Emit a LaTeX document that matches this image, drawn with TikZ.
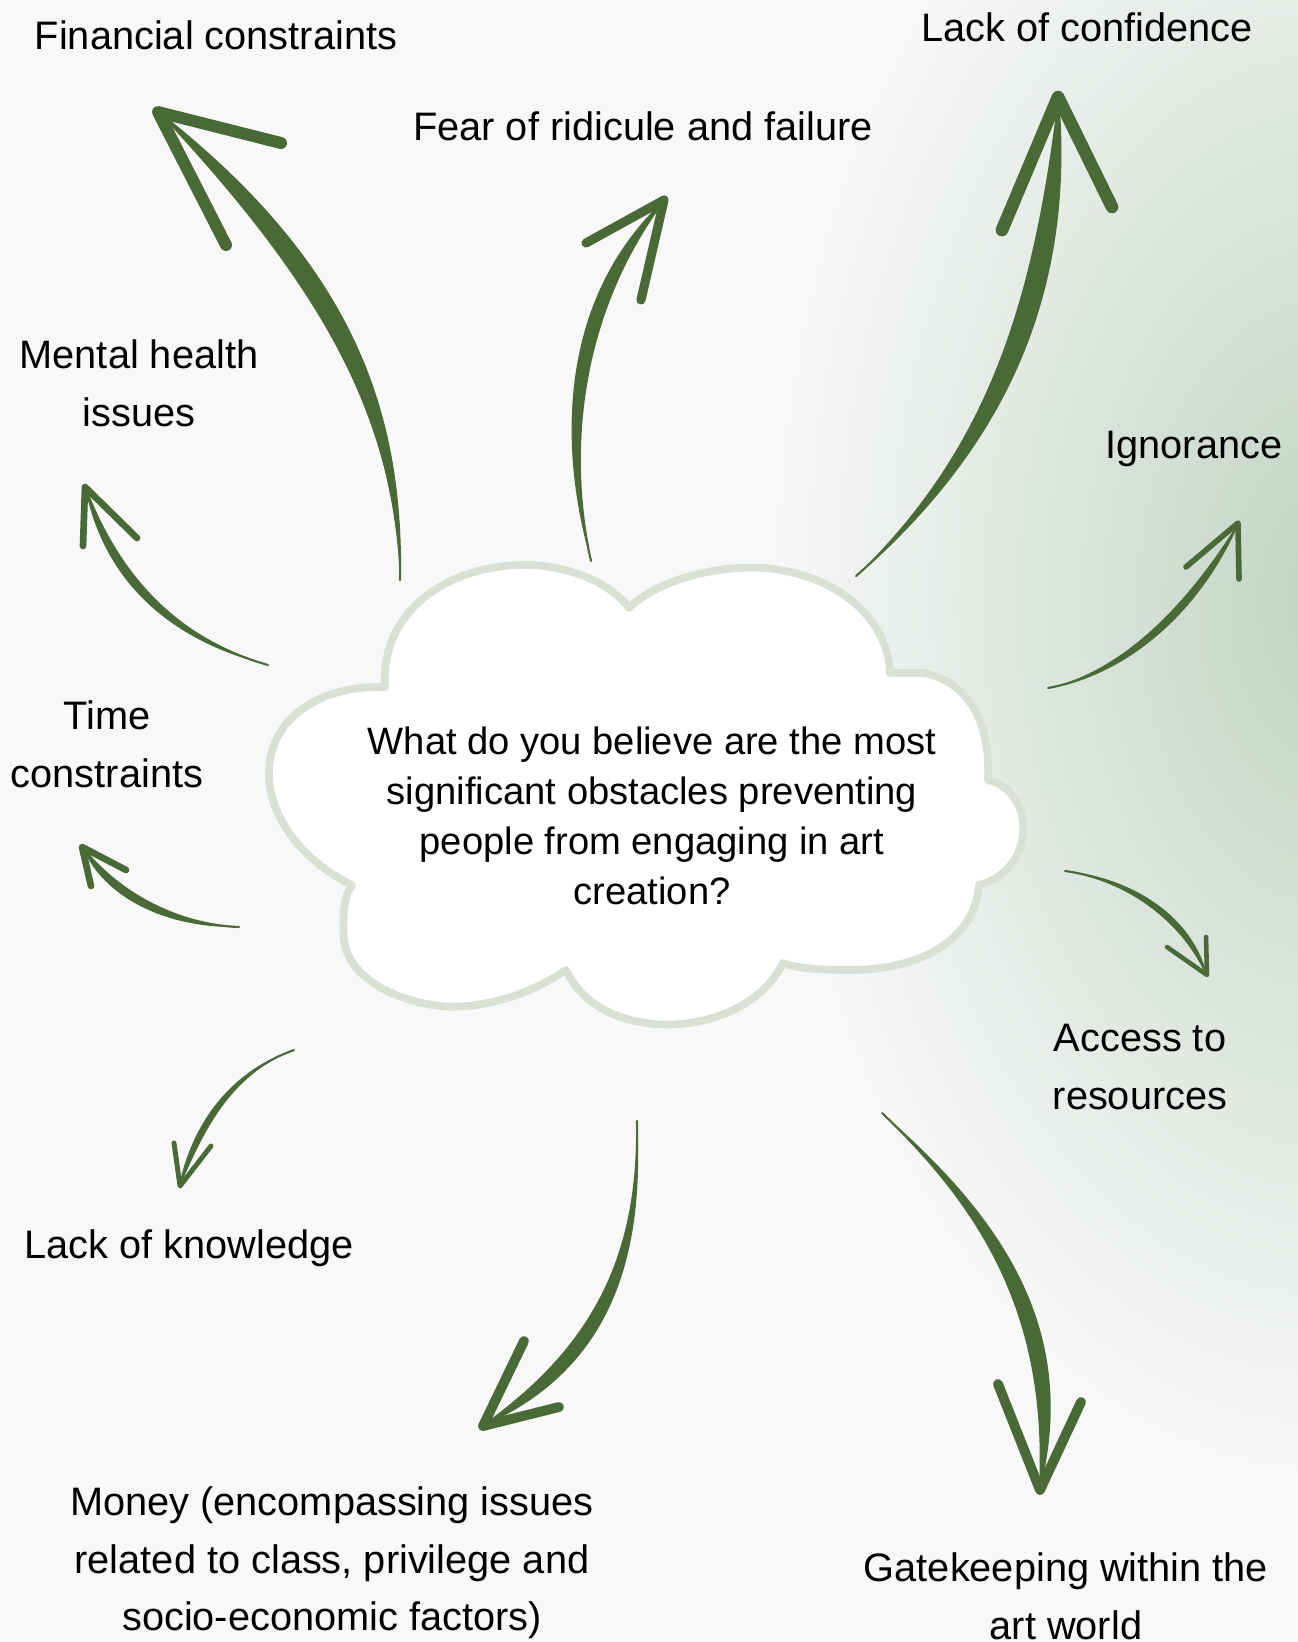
\documentclass[tikz,border=0pt]{standalone}
\usepackage{fontspec}
\setmainfont{Liberation Sans}
\usepackage{tikz}
\usetikzlibrary{calc}
\definecolor{bggray}{RGB}{248,248,248}
\definecolor{glowgreen}{RGB}{192,212,195}
\definecolor{arrowgreen}{RGB}{73,106,54}
\definecolor{cloudline}{RGB}{217,225,212}

\tikzset{
  lbl/.style={align=center,font=\fontsize{11.3}{16.4}\selectfont,inner sep=0pt},
  question/.style={align=center,font=\fontsize{10.85}{14.2}\selectfont,inner sep=0pt},
  barb/.style={draw=arrowgreen,line cap=round,line join=round}
}

% brush arrow: name, two controls, shaft width, head width
\newcommand{\handarrow}[5]{%
  \fill[arrowgreen] (#1-tail) .. controls #2 and #3 .. (#1-tip)
    .. controls ($#3!#4*1.4!90:(#1-tip)$) and ($#2!#4*0.4!90:(#1-tip)$) .. (#1-tail);
  \draw[arrowgreen,line width=0.6pt,line cap=round] (#1-tail) .. controls #2 and #3 .. (#1-tip);
  \draw[barb,line width=#5] (#1-l) -- (#1-tip) -- (#1-r);
}

\begin{document}
\begin{tikzpicture}[x=0.01cm,y=-0.01cm]
\useasboundingbox (0,0) rectangle (1298,1642);
\clip (0,0) rectangle (1298,1642);
\fill[bggray] (0,0) rectangle (1298,1642);
% green glow on the right
\shade[inner color=glowgreen,outer color=bggray] (1330,600) ellipse [x radius=560,y radius=880];

% cloud
\draw[draw=cloudline,fill=white,line width=2.2pt,line join=round]
  (352,885) .. controls (300,860) and (262,810) .. (270,760)
  .. controls (278,710) and (330,685) .. (385,687)
  .. controls (380,610) and (450,563) .. (530,565)
  .. controls (575,567) and (612,585) .. (629,608)
  .. controls (660,578) and (720,565) .. (765,568)
  .. controls (840,575) and (888,620) .. (890,673)
  -- (925,673)
  .. controls (975,685) and (990,730) .. (988,780)
  .. controls (1012,785) and (1026,810) .. (1023,835)
  .. controls (1020,862) and (1000,880) .. (979,885)
  .. controls (975,940) and (920,970) .. (850,970)
  .. controls (820,970) and (795,968) .. (783,963)
  .. controls (760,1010) and (700,1028) .. (655,1024)
  .. controls (610,1020) and (580,1000) .. (566,970)
  .. controls (530,995) and (480,1010) .. (440,1006)
  .. controls (390,1000) and (348,975) .. (344,940)
  .. controls (342,910) and (345,895) .. (352,885) -- cycle;
\node[question] (question) at (652,816) {What do you believe are the most\\significant obstacles preventing\\people from engaging in art\\creation?};

% labels
\node[lbl] (financial) at (216,35) {Financial constraints};
\node[lbl] (fear) at (643,126) {Fear of ridicule and failure};
\node[lbl] (confidence) at (1087,27) {Lack of confidence};
\node[lbl] (mental) at (139,383) {Mental health\\issues};
\node[lbl] (ignorance) at (1194,449) {Ignorance};
\node[lbl] (timec) at (107,744) {Time\\constraints};
\node[lbl] (access) at (1140,1067) {Access to\\resources};
\node[lbl] (knowledge) at (189,1248) {Lack of knowledge};
\node[lbl] (money) at (332,1563) {Money (encompassing issues\\related to class, privilege and\\socio-economic factors)};
\node[lbl] (gatekeeping) at (1066,1596) {Gatekeeping within the\\art world};

% arrow ends
\coordinate (fin-tail) at (400,580);  \coordinate (fin-tip) at (158,112);
\coordinate (fin-l) at (226,245);     \coordinate (fin-r) at (281,143);
\coordinate (fear-tail) at (591,561); \coordinate (fear-tip) at (664,200);
\coordinate (fear-l) at (586,243);    \coordinate (fear-r) at (641,300);
\coordinate (conf-tail) at (856,576); \coordinate (conf-tip) at (1058,97);
\coordinate (conf-l) at (1002,230);   \coordinate (conf-r) at (1112,207);
\coordinate (ign-tail) at (1048,688); \coordinate (ign-tip) at (1238,523);
\coordinate (ign-l) at (1186,567);    \coordinate (ign-r) at (1239,579);
\coordinate (acc-tail) at (1065,871); \coordinate (acc-tip) at (1207,975);
\coordinate (acc-l) at (1167,947);    \coordinate (acc-r) at (1206,937);
\coordinate (gate-tail) at (882,1113); \coordinate (gate-tip) at (1040,1490);
\coordinate (gate-l) at (998,1384);   \coordinate (gate-r) at (1081,1402);
\coordinate (money-tail) at (637,1121); \coordinate (money-tip) at (483,1426);
\coordinate (money-l) at (524,1341);  \coordinate (money-r) at (559,1407);
\coordinate (know-tail) at (294,1050); \coordinate (know-tip) at (180,1186);
\coordinate (know-l) at (174,1143);   \coordinate (know-r) at (211,1146);
\coordinate (time-tail) at (239,927); \coordinate (time-tip) at (82,847);
\coordinate (time-l) at (91,886);     \coordinate (time-r) at (126,870);
\coordinate (ment-tail) at (268,665); \coordinate (ment-tip) at (85,487);
\coordinate (ment-l) at (83,546);     \coordinate (ment-r) at (137,538);

% arrows
\handarrow{fin}{(402,420)}{(360,270)}{8pt}{3.4pt}
\handarrow{fear}{(568,460)}{(575,320)}{5.5pt}{2.6pt}
\handarrow{conf}{(1000,450)}{(1075,300)}{8.5pt}{3.6pt}
\handarrow{ign}{(1120,675)}{(1195,620)}{3pt}{1.6pt}
\handarrow{acc}{(1120,878)}{(1180,915)}{2.4pt}{1.3pt}
\handarrow{gate}{(995,1220)}{(1048,1330)}{6.5pt}{2.8pt}
\handarrow{money}{(640,1260)}{(590,1350)}{5.5pt}{2.8pt}
\handarrow{know}{(225,1075)}{(192,1130)}{2.4pt}{1.4pt}
\handarrow{time}{(180,925)}{(120,895)}{3.2pt}{1.9pt}
\handarrow{ment}{(180,640)}{(120,580)}{3.4pt}{1.9pt}
\end{tikzpicture}
\end{document}
